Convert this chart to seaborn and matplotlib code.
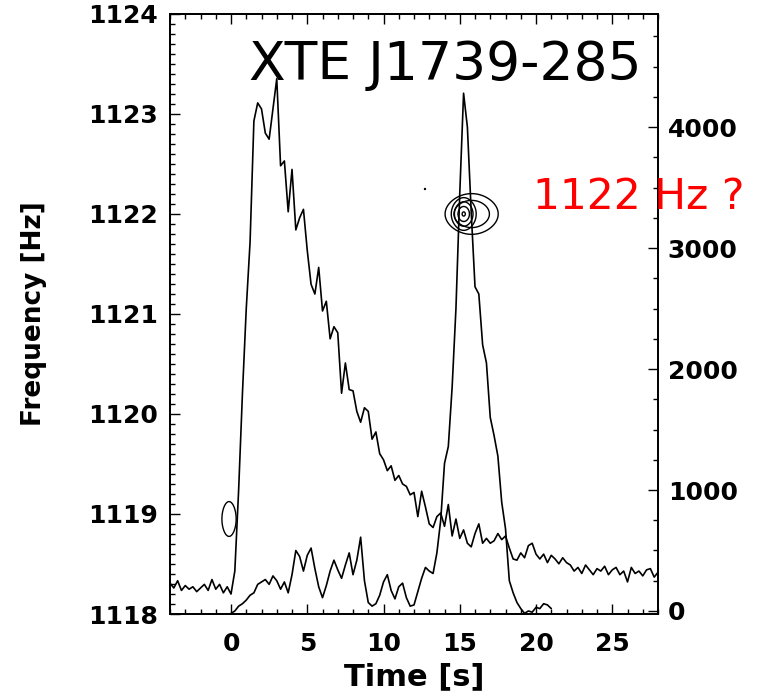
import numpy as np
import pandas as pd
import seaborn as sns
import matplotlib
matplotlib.use("Agg")
import matplotlib.pyplot as plt
from matplotlib.ticker import MultipleLocator, FormatStrFormatter

# ---------------- data ----------------
# light curve 1 (first burst), 0.25 s bins starting at -4 s  [counts/s]
t0_a = -4.0
dt_a = 0.25
rate_a = [230, 190, 250, 170, 210, 180, 200, 160, 190, 220, 170, 260, 180, 220, 150, 200, 140,
          330, 1000, 1800, 2500, 3050, 4050, 4200, 4150, 3950, 3900, 4150, 4400,
          3680, 3720, 3300, 3650, 3150, 3250, 3320, 2980, 2700, 2620, 2840, 2480,
          2560, 2250, 2350, 2300, 1800, 2050, 1830, 1820, 1650, 1560, 1680, 1650,
          1420, 1480, 1300, 1250, 1160, 1200, 1080, 1120, 1050, 1030, 960, 980,
          780, 990, 860, 720, 690, 780, 810, 700, 880, 620, 760, 600,
          670, 560, 530, 640, 720, 560, 600, 560, 580, 640, 590, 620,
          520, 430, 420, 480, 440, 540, 560, 470, 430, 470, 400, 460,
          430, 390, 440, 400, 380, 330, 360, 310, 380, 340, 300, 350,
          330, 370, 300, 340, 360, 300, 330, 240, 360, 310, 330, 290,
          340, 350, 280, 320]

# light curve 2 (second burst), 0.25 s bins starting at 0 s  [counts/s]
t0_b = 0.0
dt_b = 0.25
rate_b = [-20, 0, 40, 60, 90, 130, 150, 220, 240, 260, 220, 290, 250, 180, 240, 150,
          300, 500, 450, 330, 460, 520, 350, 200, 110, 210, 330, 420, 340, 270,
          380, 480, 300, 420, 610, 250, 70, 40, 60, 130, 240, 300, 170, 100,
          200, 230, 110, 40, 50, 160, 270, 360, 330, 310, 480, 750, 1220, 1360,
          1850, 2500, 3450, 4280, 4000, 3300, 2680, 2620, 2200, 2050, 1600, 1450,
          1280, 900, 680, 250, 150, 70, 20, -20, 0, -10, 30, 20, 60, 50, 20]

time_a = t0_a + dt_a * np.arange(len(rate_a))
time_b = t0_b + dt_b * np.arange(len(rate_b))

# candidate oscillation power peaks (sample points for the contour estimate)
core_t = [14.97, 15.55, 15.26, 15.26]
core_f = [1122.0, 1122.0, 1121.942, 1122.058]
core_levels = [0.14, 0.34, 0.67, 0.97]

halo_t = [15.13, 16.43, 15.78, 15.78]
halo_f = [1122.0, 1122.0, 1121.924, 1122.076]
halo_levels = [0.17, 0.46]

early_t = [-0.347, 0.087, -0.13, -0.13]
early_f = [1118.95, 1118.95, 1118.869, 1119.031]
early_levels = [0.325]

speck_t = [12.72]
speck_f = [1122.25]

x_ticks = [0, 5, 10, 15, 20, 25]
freq_ticks = [1118, 1119, 1120, 1121, 1122, 1123, 1124]
rate_ticks = [0, 1000, 2000, 3000, 4000]

# ---------------- style ----------------
sns.set_theme(style="ticks")
plt.rcParams["font.family"] = ["DejaVu Sans"]
plt.rcParams["font.weight"] = "bold"
plt.rcParams["text.color"] = "black"
plt.rcParams["axes.labelcolor"] = "black"
plt.rcParams["xtick.color"] = "black"
plt.rcParams["ytick.color"] = "black"
plt.rcParams["axes.edgecolor"] = "black"

fig = plt.figure(figsize=(7.6, 6.99), dpi=100)
ax = fig.add_axes([0.2237, 0.1216, 0.6421, 0.8584])
ax2 = ax.twinx()

# contours (frequency axis)
sns.kdeplot(x=core_t, y=core_f, levels=core_levels, bw_adjust=1.89,
            color="black", linewidths=1.0, ax=ax)
sns.kdeplot(x=halo_t, y=halo_f, levels=halo_levels, bw_adjust=1.89,
            color="black", linewidths=1.0, ax=ax)
sns.kdeplot(x=early_t, y=early_f, levels=early_levels, bw_adjust=1.89,
            color="black", linewidths=1.0, ax=ax)
sns.scatterplot(x=speck_t, y=speck_f, s=3, color="black", edgecolor="none", ax=ax)

# light curves (count-rate axis)
sns.lineplot(x=time_a, y=rate_a, color="black", lw=1.2, estimator=None, sort=False, ax=ax2)
sns.lineplot(x=time_b, y=rate_b, color="black", lw=1.2, estimator=None, sort=False, ax=ax2)

ax.set_xlim(-4, 28)
ax.set_ylim(1118, 1124)
ax2.set_ylim(-25, 4935)

ax.set_xticks(x_ticks)
ax.xaxis.set_minor_locator(MultipleLocator(1))
ax.set_yticks(freq_ticks)
ax.yaxis.set_minor_locator(MultipleLocator(0.1))
ax.yaxis.set_major_formatter(FormatStrFormatter("%d"))
ax2.set_yticks(rate_ticks)
ax2.yaxis.set_minor_locator(MultipleLocator(250))
ax2.yaxis.set_major_formatter(FormatStrFormatter("%d"))

ax.tick_params(axis="x", which="both", direction="in", top=True, bottom=True,
               labelsize=18, pad=13, color="black", labelcolor="black")
ax.tick_params(axis="y", which="both", direction="in", left=True, right=False,
               labelsize=18, pad=8.5, color="black", labelcolor="black")
ax2.tick_params(axis="y", which="both", direction="in", right=True, left=False,
                labelsize=18, pad=7, color="black", labelcolor="black")
for a in (ax, ax2):
    a.tick_params(which="major", length=7.5, width=1.0)
    a.tick_params(which="minor", length=3.8, width=1.0)
    for s in a.spines.values():
        s.set_visible(True)
        s.set_color("black")
        s.set_linewidth(1.3)

ax2.set_ylabel("")
ax.set_xlabel("Time [s]", fontsize=22, fontweight="bold", color="black")
ax.set_ylabel("Frequency [Hz]", fontsize=19, fontweight="bold", color="black")
ax.xaxis.set_label_coords(0.5, -0.08)
ax.yaxis.set_label_coords(-0.252, 0.5)

fig.text(0.586, 1 - 80 / 699, "XTE J1739-285", fontsize=38.5, fontweight="normal",
         ha="center", va="baseline", color="black")
fig.text(0.840, 1 - 209 / 699, "1122 Hz ?", fontsize=30.5, fontweight="normal",
         ha="center", va="baseline", color="#ff0000")

fig.savefig("out.png", dpi=100)
